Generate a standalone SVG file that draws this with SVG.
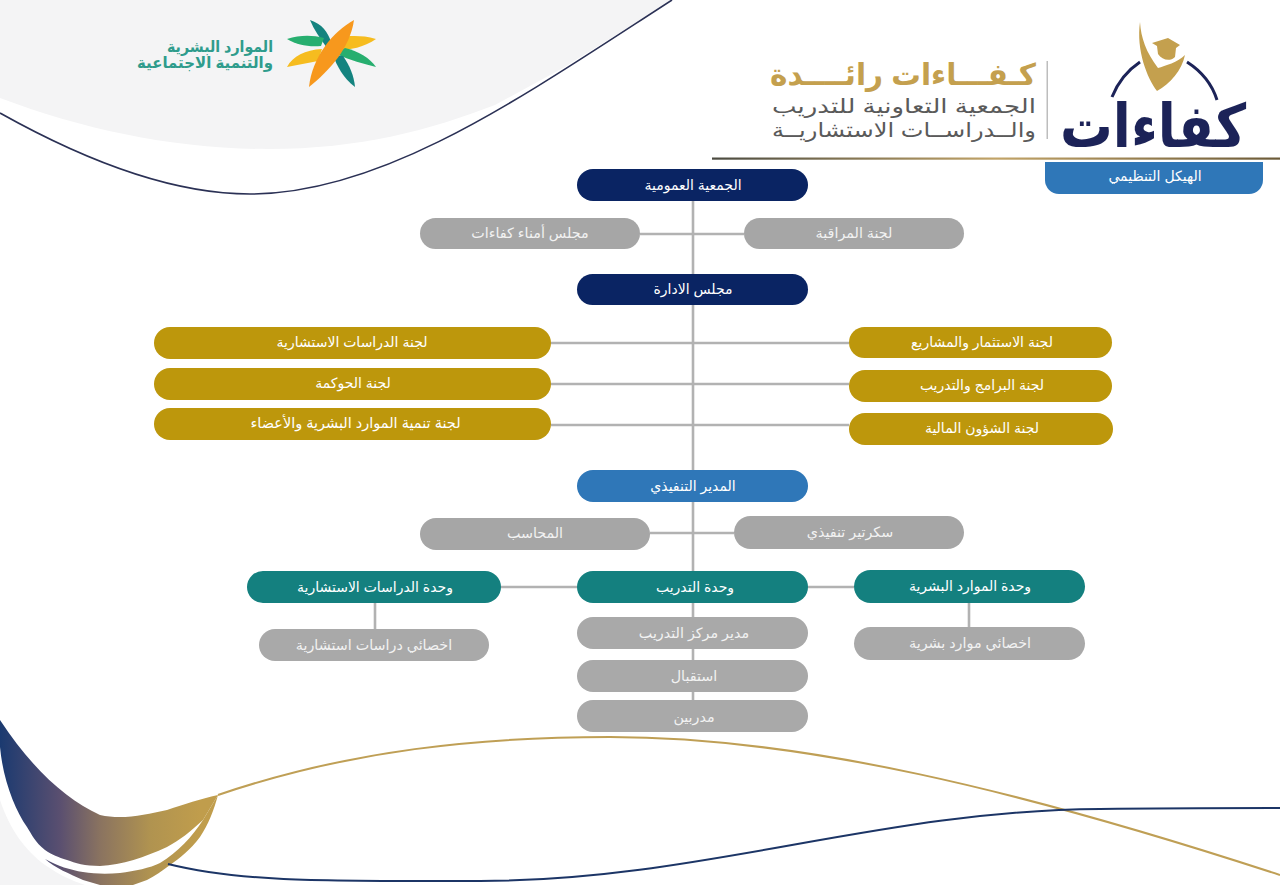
<svg xmlns="http://www.w3.org/2000/svg" width="1280" height="885" viewBox="0 0 1280 885">
<defs>
<linearGradient id="sw" gradientUnits="userSpaceOnUse" x1="0" y1="0" x2="200" y2="0"><stop offset="0" stop-color="#1b3a70"/><stop offset="0.3" stop-color="#5a4f70"/><stop offset="0.5" stop-color="#8a7360"/><stop offset="0.75" stop-color="#b09350"/><stop offset="1" stop-color="#c09d4c"/></linearGradient>
<linearGradient id="rule" x1="0" y1="0" x2="1" y2="0"><stop offset="0" stop-color="#4a4a40"/><stop offset="0.5" stop-color="#c2a468"/><stop offset="1" stop-color="#6b5a38"/></linearGradient>
</defs>
<style>
.navy{fill:#0a2463}.gray{fill:#a6a6a6}.graym{fill:#a9a9a9}.gold{fill:#bd970c}.blue{fill:#2f77b8}.teal{fill:#14807f}
text{font-family:"Liberation Sans","DejaVu Sans","Noto Sans",sans-serif;direction:rtl;text-anchor:middle}
.t{fill:#fff;font-size:14px;dominant-baseline:central}
.tg{fill:#f2f2f2;font-size:14.300px;dominant-baseline:central}
.c{stroke:#b2b2b2;stroke-width:2.6;fill:none}
</style>
<rect width="1280" height="885" fill="#fff"/>
<g id="background">
<path d="M0,98 C85,130 175,149 268,149 C360,149 430,130 495,105 L563,68 L672,0 L0,0Z" fill="#f4f4f5"/>
<path d="M0,113 C75,155 165,194 250,194 C385,194 525,95 672,0" fill="none" stroke="#2b3155" stroke-width="1.6"/>
<path d="M0,800 C10,830 25,850 45,865 C60,875 70,880 85,885 L0,885Z" fill="#f4f4f5"/>
<path d="M0,720 C33,770 67,800 100,815 C122,820 145,815 167,810 C185,804 200,799 218,795 L203,820 C190,832 180,840 167,847 C145,857 122,865 100,866 C85,866 75,863 67,860 C58,857 52,855 45,850 C35,842 32,835 27,827 C15,810 3,780 0,747Z" fill="url(#sw)"/>
<path d="M45,859 C58,866 70,870 83,872 C95,874 108,874 120,873 C135,871 150,868 160,863 C178,852 192,837 203,820 L218,795 C214,810 208,825 200,837 C190,850 180,858 170,865 C162,871 155,876 147,880 L133,885 L100,885 L83,880 C70,874 55,868 45,859Z" fill="url(#sw)"/>
<path d="M218,795 C350,750 480,737 610,737 C800,737 1020,790 1280,875" fill="none" stroke="#bf9f55" stroke-width="2"/>
<path d="M168,864 C240,882 320,881 480,881 C700,881 880,810 1100,809 C1170,808 1230,808 1280,808" fill="none" stroke="#1c3566" stroke-width="2"/>
</g>
<g id="logo-hrsd">
<path d="M310,20 C322,24 328,32 331,42 L327,48 C320,38 314,30 310,20Z" fill="#14837f"/>
<path d="M287,39 C300,35 312,35 324,38 L321,46 C308,47 297,45 287,39Z" fill="#27ae6f"/>
<path d="M376,39 C362,35 350,36 340,37 L335,51 C350,50 365,47 376,39Z" fill="#f6bc1f"/>
<path d="M287,67 C293,56 305,50 322,49 L318,61 C308,63 297,65 287,67Z" fill="#f6bc1f"/>
<path d="M376,67 C370,58 358,51 345,48 L336,54 C350,60 364,64 376,67Z" fill="#27ae6f"/>
<path d="M355,87 C343,78 337,66 333,55 L343,56 C350,66 354,76 355,87Z" fill="#14837f"/>
<path d="M354,20 C332,32 312,58 309,87 C330,70 350,48 354,20Z" fill="#f7981d"/>
<text x="220" y="52" font-size="15.500" font-weight="bold" fill="#2f9c8c" textLength="106" lengthAdjust="spacingAndGlyphs">الموارد البشرية</text>
<text x="205" y="68" font-size="15.500" font-weight="bold" fill="#2f9c8c" textLength="136" lengthAdjust="spacingAndGlyphs">والتنمية الاجتماعية</text>
</g>
<g id="logo-kafaat">
<rect x="1046.500" y="61" width="1.500" height="78" fill="#bdbdbd"/>
<path d="M1112,97 C1118,82 1128,70 1140,62" fill="none" stroke="#1c2358" stroke-width="3"/>
<path d="M1187,62 C1201,71 1212,84 1217,100" fill="none" stroke="#1c2358" stroke-width="3"/>
<path d="M1140,22 C1141,38 1146,52 1158,68 C1165,66 1178,62 1185,55 C1182,70 1170,84 1157,91 C1147,78 1136,50 1140,22Z" fill="#c4a04e"/>
<path d="M1152,43 L1168,38 L1180,45 L1176,48 L1175,57 C1170,62 1162,60 1158,54 L1157,46Z" fill="#c4a04e"/>
<text x="1153" y="147" font-size="60" font-weight="bold" fill="#1c2358" textLength="186" lengthAdjust="spacingAndGlyphs">كفاءات</text>
<text x="903" y="85" font-size="30" font-weight="bold" fill="#c4a04e" textLength="266" lengthAdjust="spacingAndGlyphs">كـفـــاءات رائــــدة</text>
<text x="904" y="113" font-size="20" fill="#5a5a5a" textLength="264" lengthAdjust="spacingAndGlyphs">الجمعية التعاونية للتدريب</text>
<text x="904" y="137" font-size="20" fill="#5a5a5a" textLength="264" lengthAdjust="spacingAndGlyphs">والــدراســات الاستشاريــة</text>
</g>
<rect id="header-rule" x="712" y="157.500" width="568" height="2.200" fill="url(#rule)"/>
<g id="connectors">
<path class="c" d="M693,201V700M640,234H744M551,343H849M551,384H849M551,425H849M650,533H734M501,587H577M808,587H854M375,603V629M969,603V627"/>
</g>
<g id="title"><path class="blue" d="M1045,162H1263V180a14,14 0 0 1-14,14H1059a14,14 0 0 1-14-14Z"/><text class="t" x="1155" y="176">الهيكل التنظيمي</text></g>
<g id="n1"><rect class="navy" x="577" y="169" width="231" height="32" rx="16"/><text class="t" x="693" y="185">الجمعية العمومية</text></g>
<g id="n2"><rect class="gray" x="420" y="218" width="220" height="31" rx="15.500"/><text class="tg" x="530" y="233">مجلس أمناء كفاءات</text></g>
<g id="n3"><rect class="gray" x="744" y="218" width="220" height="31" rx="15.500"/><text class="tg" x="854" y="233">لجنة المراقبة</text></g>
<g id="n4"><rect class="navy" x="577" y="274" width="231" height="31" rx="15.500"/><text class="t" x="693" y="289">مجلس الادارة</text></g>
<g id="n5"><rect class="gold" x="154" y="327" width="397" height="32" rx="16"/><text class="t" x="352" y="342">لجنة الدراسات الاستشارية</text></g>
<g id="n6"><rect class="gold" x="154" y="368" width="397" height="32" rx="16"/><text class="t" x="353" y="383">لجنة الحوكمة</text></g>
<g id="n7"><rect class="gold" x="154" y="408" width="397" height="32" rx="16"/><text class="t" x="355.500" y="423" font-size="14.500" style="font-size:14.500px">لجنة تنمية الموارد البشرية والأعضاء</text></g>
<g id="n8"><rect class="gold" x="849" y="327" width="263" height="31" rx="15.500"/><text class="t" x="982" y="342">لجنة الاستثمار والمشاريع</text></g>
<g id="n9"><rect class="gold" x="849" y="370" width="263" height="32" rx="16"/><text class="t" x="982" y="385">لجنة البرامج والتدريب</text></g>
<g id="n10"><rect class="gold" x="849" y="413" width="264" height="32" rx="16"/><text class="t" x="982" y="428">لجنة الشؤون المالية</text></g>
<g id="n11"><rect class="blue" x="577" y="470" width="231" height="32" rx="16"/><text class="t" x="693" y="486">المدير التنفيذي</text></g>
<g id="n12"><rect class="gray" x="420" y="518" width="230" height="32" rx="16"/><text class="tg" x="535" y="533">المحاسب</text></g>
<g id="n13"><rect class="gray" x="734" y="516" width="230" height="33" rx="16.500"/><text class="tg" x="850" y="532">سكرتير تنفيذي</text></g>
<g id="n14"><rect class="teal" x="247" y="571" width="254" height="32" rx="16"/><text class="t" x="375" y="587">وحدة الدراسات الاستشارية</text></g>
<g id="n15"><rect class="teal" x="577" y="571" width="231" height="32" rx="16"/><text class="t" x="695" y="587">وحدة التدريب</text></g>
<g id="n16"><rect class="teal" x="854" y="570" width="231" height="33" rx="16.500"/><text class="t" x="970" y="586">وحدة الموارد البشرية</text></g>
<g id="n17"><rect class="graym" x="259" y="629" width="230" height="32" rx="16"/><text class="tg" x="374" y="645">اخصائي دراسات استشارية</text></g>
<g id="n18"><rect class="graym" x="577" y="617" width="231" height="32" rx="16"/><text class="tg" x="694" y="633">مدير مركز التدريب</text></g>
<g id="n19"><rect class="graym" x="577" y="660" width="231" height="32" rx="16"/><text class="tg" x="694" y="676">استقبال</text></g>
<g id="n20"><rect class="graym" x="577" y="700" width="231" height="32" rx="16"/><text class="tg" x="694" y="717">مدربين</text></g>
<g id="n21"><rect class="graym" x="854" y="627" width="231" height="33" rx="16.500"/><text class="tg" x="970" y="643">اخصائي موارد بشرية</text></g>
</svg>
